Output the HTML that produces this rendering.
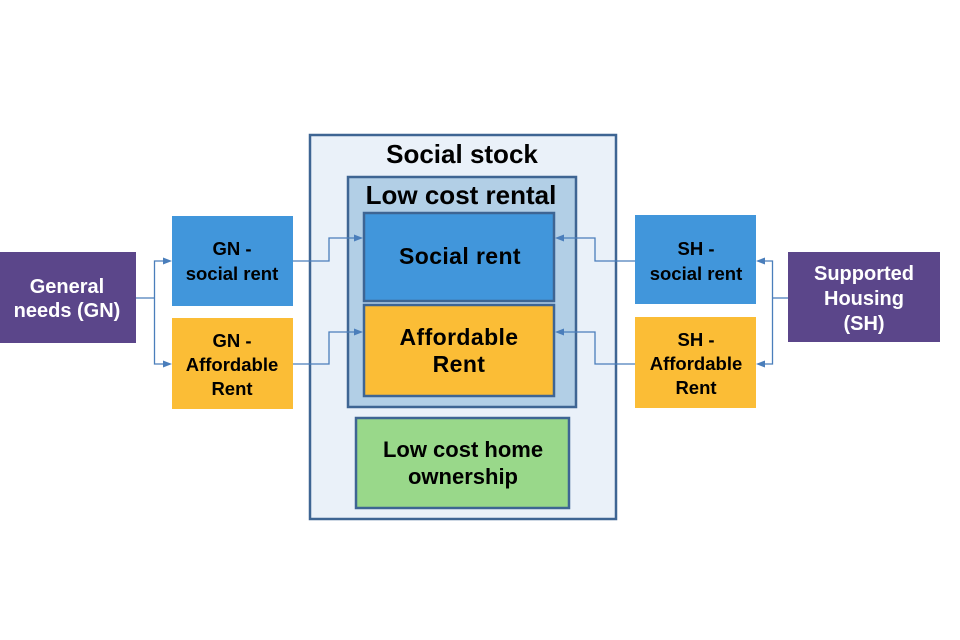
<!DOCTYPE html>
<html>
<head>
<meta charset="utf-8">
<style>
  html, body { margin:0; padding:0; background:#ffffff; }
  body { width:960px; height:640px; overflow:hidden; }
  svg { display:block; }
  text { font-family: "Liberation Sans", Arial, sans-serif; font-weight:bold; }
</style>
</head>
<body>
<svg width="960" height="640" viewBox="0 0 960 640" xmlns="http://www.w3.org/2000/svg">
  <!-- Social stock container -->
  <rect x="310" y="135" width="306" height="384" fill="#eaf1f9" stroke="#3e6593" stroke-width="2.5"/>
  <text x="462" y="163" font-size="26" text-anchor="middle" fill="#000">Social stock</text>

  <!-- Low cost rental -->
  <rect x="348" y="177" width="228" height="230" fill="#b2cfe6" stroke="#3e6593" stroke-width="2.5"/>
  <text x="461" y="204" font-size="26" text-anchor="middle" fill="#000">Low cost rental</text>

  <!-- Social rent -->
  <rect x="364" y="213" width="190" height="88" fill="#4196db" stroke="#3e6593" stroke-width="2.5"/>
  <text x="460" y="264" font-size="23" letter-spacing="0.4" text-anchor="middle" fill="#000">Social rent</text>

  <!-- Affordable Rent -->
  <rect x="364" y="305" width="190" height="91" fill="#fbbd36" stroke="#3e6593" stroke-width="2.5"/>
  <text x="459" y="345" font-size="23" letter-spacing="0.4" text-anchor="middle" fill="#000">Affordable</text>
  <text x="459" y="372" font-size="23" letter-spacing="0.4" text-anchor="middle" fill="#000">Rent</text>

  <!-- Low cost home ownership -->
  <rect x="356" y="418" width="213" height="90" fill="#99d88a" stroke="#3e6593" stroke-width="2.5"/>
  <text x="463" y="457" font-size="22" text-anchor="middle" fill="#000">Low cost home</text>
  <text x="463" y="484" font-size="22" text-anchor="middle" fill="#000">ownership</text>

  <!-- Left side -->
  <rect x="0" y="252" width="136" height="91" fill="#5b468a"/>
  <text x="67" y="293" font-size="20" text-anchor="middle" fill="#ffffff">General</text>
  <text x="67" y="317" font-size="20" text-anchor="middle" fill="#ffffff">needs (GN)</text>

  <rect x="172" y="216" width="121" height="90" fill="#4196db"/>
  <text x="232" y="255" font-size="18.5" text-anchor="middle" fill="#000">GN -</text>
  <text x="232" y="280" font-size="18.5" text-anchor="middle" fill="#000">social rent</text>

  <rect x="172" y="318" width="121" height="91" fill="#fbbd36"/>
  <text x="232" y="347" font-size="18.5" text-anchor="middle" fill="#000">GN -</text>
  <text x="232" y="371" font-size="18.5" text-anchor="middle" fill="#000">Affordable</text>
  <text x="232" y="395" font-size="18.5" text-anchor="middle" fill="#000">Rent</text>

  <!-- Right side -->
  <rect x="635" y="215" width="121" height="89" fill="#4196db"/>
  <text x="696" y="255" font-size="18.5" text-anchor="middle" fill="#000">SH -</text>
  <text x="696" y="280" font-size="18.5" text-anchor="middle" fill="#000">social rent</text>

  <rect x="635" y="317" width="121" height="91" fill="#fbbd36"/>
  <text x="696" y="346" font-size="18.5" text-anchor="middle" fill="#000">SH -</text>
  <text x="696" y="370" font-size="18.5" text-anchor="middle" fill="#000">Affordable</text>
  <text x="696" y="394" font-size="18.5" text-anchor="middle" fill="#000">Rent</text>

  <rect x="788" y="252" width="152" height="90" fill="#5b468a"/>
  <text x="864" y="280" font-size="20" text-anchor="middle" fill="#ffffff">Supported</text>
  <text x="864" y="305" font-size="20" text-anchor="middle" fill="#ffffff">Housing</text>
  <text x="864" y="330" font-size="20" text-anchor="middle" fill="#ffffff">(SH)</text>

  <!-- Connectors -->
  <g fill="none" stroke="#4a7ebb" stroke-width="1.3">
    <!-- GN fan-out -->
    <polyline points="136,298 154.5,298"/>
    <polyline points="164,261 154.5,261 154.5,364 164,364"/>
    <!-- GN social -> social rent -->
    <polyline points="293,261 329,261 329,238 355,238"/>
    <!-- GN affordable -> affordable rent -->
    <polyline points="293,364 329,364 329,332 355,332"/>
    <!-- SH fan-out -->
    <polyline points="788,298 772.5,298"/>
    <polyline points="764,261 772.5,261 772.5,364 764,364"/>
    <!-- SH social -> social rent -->
    <polyline points="635,261 595,261 595,238 563,238"/>
    <!-- SH affordable -> affordable rent -->
    <polyline points="635,364 595,364 595,332 563,332"/>
  </g>
  <g fill="#4a7ebb">
    <polygon points="172,261 163,257.5 163,264.5"/>
    <polygon points="172,364 163,360.5 163,367.5"/>
    <polygon points="363,238 354,234.5 354,241.5"/>
    <polygon points="363,332 354,328.5 354,335.5"/>
    <polygon points="756,261 765,257.5 765,264.5"/>
    <polygon points="756,364 765,360.5 765,367.5"/>
    <polygon points="555,238 564,234.5 564,241.5"/>
    <polygon points="555,332 564,328.5 564,335.5"/>
  </g>
</svg>
</body>
</html>
